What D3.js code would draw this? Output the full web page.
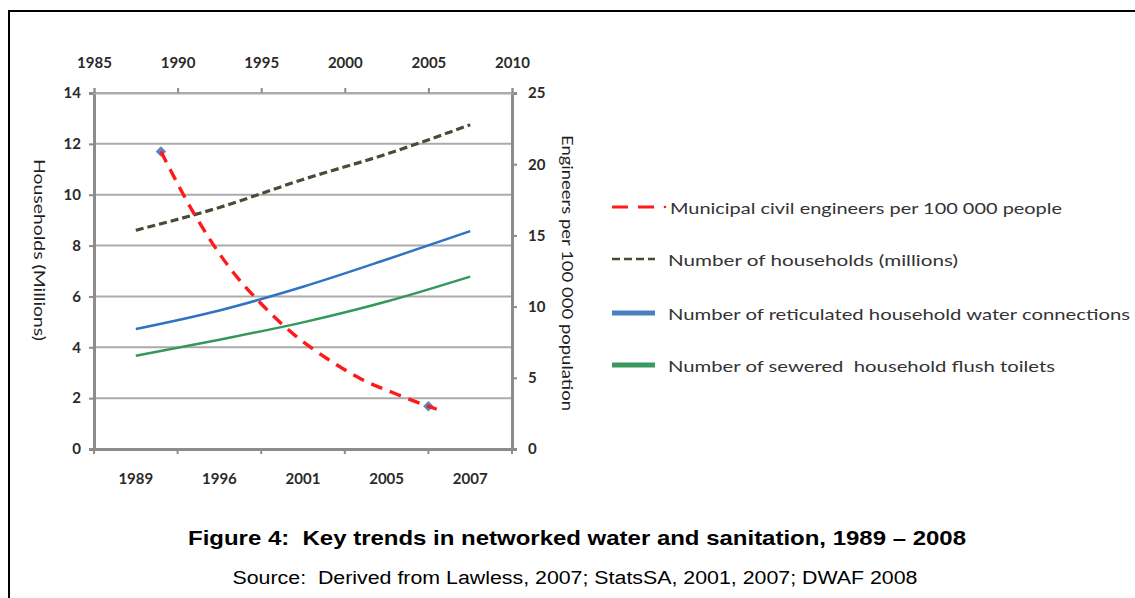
<!DOCTYPE html>
<html>
<head>
<meta charset="utf-8">
<script src="https://cdn.jsdelivr.net/npm/d3@7"></script>
<style>
  html, body { margin: 0; padding: 0; background: #fff; }
  svg { display: block; }
  text { white-space: pre; }
  .tick text { font-family: Lato, "Open Sans", sans-serif; font-size: 15px; font-weight: bold; fill: #2a2a2a; }
</style>
</head>
<body>
<svg id="chart"></svg>
<script>
// categories on the bottom axis, values on the left axis (millions)
const catLabels = ['1989', '1996', '2001', '2005', '2007'];
const households = [8.6, 9.5, 10.6, 11.6, 12.75];
const waterConn = [4.72, 5.45, 6.38, 7.45, 8.57];
const sewered = [3.67, 4.3, 4.98, 5.8, 6.78];

// engineers per 100 000 people, on the top year axis / right axis
const engYears = [1989, 1991, 1993, 1995, 1997, 1999, 2001, 2003, 2005, 2005.5];
const engTrend = [20.9, 16.5, 12.9, 10.2, 8.0, 6.3, 4.9, 3.9, 3.0, 2.8];
const engPointYears = [1989, 2005];
const engPoints = [20.9, 3.0];

const topYears = [1985, 1990, 1995, 2000, 2005, 2010];
const leftTicks = [0, 2, 4, 6, 8, 10, 12, 14];
const rightTicks = [0, 5, 10, 15, 20, 25];

const legendItems = [
  'Municipal civil engineers per 100 000 people',
  'Number of households (millions)',
  'Number of reticulated household water connections',
  'Number of sewered  household flush toilets'
];

const width = 1135;
const height = 598;
const pLeft = 94, pRight = 512, pTop = 93, pBottom = 449;
const font = 'Lato, "Open Sans", sans-serif';

const svg = d3.select('#chart').attr('width', width).attr('height', height);

// outer frame
svg.append('path')
  .attr('d', `M9,${height + 2} L9,11 L${width + 2},11`)
  .attr('fill', 'none')
  .attr('stroke', '#000')
  .attr('stroke-width', 2);

const yL = d3.scaleLinear().domain([0, 14]).range([pBottom, pTop]);
const yR = d3.scaleLinear().domain([0, 25]).range([pBottom, pTop]);
const xTop = d3.scaleLinear().domain([1985, 2010]).range([pLeft, pRight]);
const xCat = d3.scaleBand().domain(catLabels).range([pLeft, pRight]).padding(0);
const cx = c => xCat(c) + xCat.bandwidth() / 2;

// gridlines
svg.append('g')
  .selectAll('line')
  .data(leftTicks.filter(d => d > 0))
  .enter()
  .append('line')
  .attr('x1', pLeft).attr('x2', pRight)
  .attr('y1', d => yL(d)).attr('y2', d => yL(d))
  .attr('stroke', '#ababab')
  .attr('stroke-width', 2);

// axes
const axisColor = '#8c8c8c';

const leftAxis = svg.append('g')
  .attr('transform', `translate(${pLeft},0)`)
  .call(d3.axisLeft(yL).tickValues(leftTicks).tickSize(5).tickPadding(8));

const rightAxis = svg.append('g')
  .attr('transform', `translate(${pRight},0)`)
  .call(d3.axisRight(yR).tickValues(rightTicks).tickSize(5).tickPadding(11));

const topAxis = svg.append('g')
  .attr('transform', `translate(0,${pTop})`)
  .call(d3.axisTop(xTop).tickValues(topYears).tickFormat(d3.format('d')).tickSize(5).tickPadding(20));

const bottomAxis = svg.append('g')
  .attr('transform', `translate(0,${pBottom})`)
  .call(d3.axisBottom(xCat).tickSize(0).tickPadding(24));

// bottom ticks sit on the category boundaries
svg.append('g')
  .selectAll('line')
  .data(catLabels.map(c => xCat(c)).concat([pRight]))
  .enter()
  .append('line')
  .attr('x1', d => d).attr('x2', d => d)
  .attr('y1', pBottom).attr('y2', pBottom + 5)
  .attr('stroke', axisColor)
  .attr('stroke-width', 2);

[leftAxis, rightAxis, topAxis, bottomAxis].forEach(a => {
  a.selectAll('.tick line').attr('stroke', axisColor).attr('stroke-width', 2);
  a.attr('font-family', null).attr('font-size', null);
});
topAxis.select('.domain').attr('stroke', '#ababab').attr('stroke-width', 2);
leftAxis.select('.domain').attr('stroke', axisColor).attr('stroke-width', 3);
rightAxis.select('.domain').attr('stroke', axisColor).attr('stroke-width', 3);
bottomAxis.select('.domain').attr('stroke', axisColor).attr('stroke-width', 3);

// axis titles
svg.append('text')
  .attr('transform', 'translate(40,250) rotate(90)')
  .attr('text-anchor', 'middle')
  .attr('dominant-baseline', 'central')
  .style('font-family', font)
  .style('font-size', '15px')
  .style('fill', '#1f1f1f')
  .attr('textLength', 182)
  .attr('lengthAdjust', 'spacingAndGlyphs')
  .text('Households (Millions)');

svg.append('text')
  .attr('transform', 'translate(568,273) rotate(90)')
  .attr('text-anchor', 'middle')
  .attr('dominant-baseline', 'central')
  .style('font-family', font)
  .style('font-size', '15px')
  .style('fill', '#1f1f1f')
  .attr('textLength', 276)
  .attr('lengthAdjust', 'spacingAndGlyphs')
  .text('Engineers per 100 000 population');

// series
const catLine = d3.line()
  .x((d, i) => cx(catLabels[i]))
  .y(d => yL(d))
  .curve(d3.curveMonotoneX);

svg.append('path')
  .datum(sewered)
  .attr('d', catLine)
  .attr('fill', 'none')
  .attr('stroke', '#35985a')
  .attr('stroke-width', 2.5);

svg.append('path')
  .datum(waterConn)
  .attr('d', catLine)
  .attr('fill', 'none')
  .attr('stroke', '#2f74c4')
  .attr('stroke-width', 2.5);

svg.append('path')
  .datum(households)
  .attr('d', catLine)
  .attr('fill', 'none')
  .attr('stroke', '#4a4a36')
  .attr('stroke-width', 3.2)
  .attr('stroke-dasharray', '8,4');

const engLine = d3.line()
  .x((d, i) => xTop(engYears[i]))
  .y(d => yR(d))
  .curve(d3.curveMonotoneX);

svg.append('g')
  .selectAll('path')
  .data(engPoints)
  .enter()
  .append('path')
  .attr('d', d3.symbol().type(d3.symbolSquare).size(55))
  .attr('transform', (d, i) => `translate(${xTop(engPointYears[i])},${yR(d)}) rotate(45)`)
  .attr('fill', '#5a87c6');

svg.append('path')
  .datum(engTrend)
  .attr('d', engLine)
  .attr('fill', 'none')
  .attr('stroke', '#ff1a1a')
  .attr('stroke-width', 3.4)
  .attr('stroke-dasharray', '12,8');

// legend
const legendY = [207, 259, 313, 365];
const legendLen = [392, 290, 462, 387];
const lg = svg.append('g');

lg.append('line')
  .attr('x1', 612).attr('x2', 656)
  .attr('y1', legendY[0]).attr('y2', legendY[0])
  .attr('stroke', '#ff1a1a').attr('stroke-width', 3)
  .attr('stroke-dasharray', '16,10');
lg.append('circle')
  .attr('cx', 665).attr('cy', legendY[0]).attr('r', 1.3)
  .attr('fill', '#ff1a1a');

lg.append('line')
  .attr('x1', 612).attr('x2', 655)
  .attr('y1', legendY[1]).attr('y2', legendY[1])
  .attr('stroke', '#4a4a36').attr('stroke-width', 2.5)
  .attr('stroke-dasharray', '8,4');

lg.append('line')
  .attr('x1', 612).attr('x2', 655)
  .attr('y1', legendY[2]).attr('y2', legendY[2])
  .attr('stroke', '#4a7fc0').attr('stroke-width', 5);

lg.append('line')
  .attr('x1', 612).attr('x2', 655)
  .attr('y1', legendY[3]).attr('y2', legendY[3])
  .attr('stroke', '#3a9960').attr('stroke-width', 5);

lg.selectAll('text')
  .data(legendItems)
  .enter()
  .append('text')
  .attr('x', (d, i) => i === 0 ? 670 : 668)
  .attr('y', (d, i) => legendY[i])
  .attr('dominant-baseline', 'central')
  .attr('textLength', (d, i) => legendLen[i])
  .attr('lengthAdjust', 'spacingAndGlyphs')
  .style('font-family', font)
  .style('font-size', '16px')
  .style('fill', '#333')
  .text(d => d);

// captions
svg.append('text')
  .attr('x', 577).attr('y', 545)
  .attr('text-anchor', 'middle')
  .attr('textLength', 778)
  .attr('lengthAdjust', 'spacingAndGlyphs')
  .style('font-family', '"Liberation Sans", Arial, sans-serif')
  .style('font-size', '21px')
  .style('font-weight', 'bold')
  .style('fill', '#000')
  .text('Figure 4:  Key trends in networked water and sanitation, 1989 – 2008');

svg.append('text')
  .attr('x', 575).attr('y', 584)
  .attr('text-anchor', 'middle')
  .attr('textLength', 685)
  .attr('lengthAdjust', 'spacingAndGlyphs')
  .style('font-family', '"Liberation Sans", Arial, sans-serif')
  .style('font-size', '18px')
  .style('fill', '#000')
  .text('Source:  Derived from Lawless, 2007; StatsSA, 2001, 2007; DWAF 2008');
</script>
</body>
</html>
